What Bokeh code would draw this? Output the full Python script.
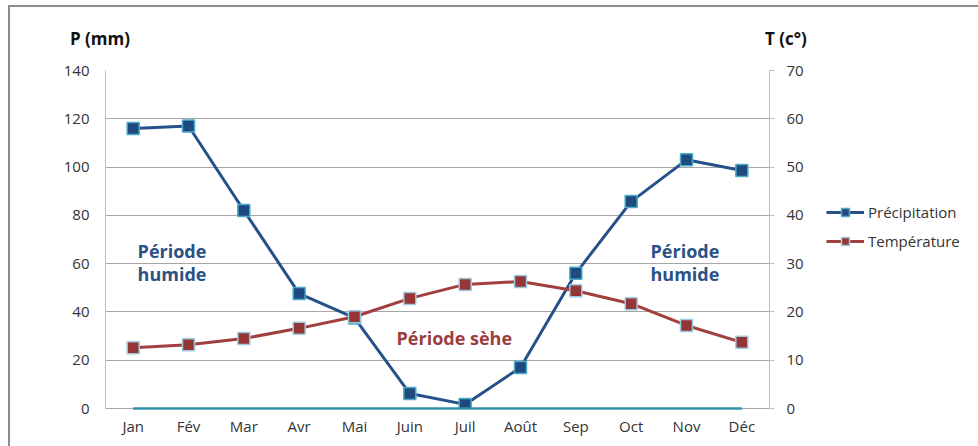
from bokeh.plotting import figure
from bokeh.models import (Range1d, LinearAxis, FixedTicker, Label, Legend, LegendItem, FactorRange, Div)
from bokeh.layouts import column, row
from bokeh.embed import file_html
from bokeh.resources import INLINE

months = ["Jan", "Fév", "Mar", "Avr", "Mai", "Juin", "Juil", "Août", "Sep", "Oct", "Nov", "Déc"]
precip = [116, 117, 82, 47.6, 37.5, 6.2, 1.7, 17, 56, 85.7, 103, 98.6]
temp = [12.6, 13.2, 14.5, 16.6, 19.0, 22.8, 25.7, 26.3, 24.4, 21.7, 17.2, 13.7]
zero = [0] * 12
p_ticks = [0, 20, 40, 60, 80, 100, 120, 140]
t_ticks = [0, 10, 20, 30, 40, 50, 60, 70]
series_names = ["Précipitation", "Température"]
p_title = "P (mm)"
t_title = "T (c°)"

FONT = "Open Sans"
BLUE = "#26508a"
RED = "#a03f3d"
P_MARK = dict(marker="square", size=12, fill_color="#1f4a80", line_color="#4bacc6", line_width=1.5)
T_MARK = dict(marker="square", size=12, fill_color="#963634", line_color="#9ccbe0", line_width=1.5)

p = figure(x_range=FactorRange(*months, range_padding=0), y_range=Range1d(0, 140),
           width=805, height=396, output_backend="svg", toolbar_location=None,
           min_border_left=95, min_border_right=46, min_border_top=20, min_border_bottom=38)
p.extra_y_ranges = {"temp": Range1d(0, 70)}
p.outline_line_color = None
p.background_fill_color = "white"
p.border_fill_color = "white"

p.xgrid.grid_line_color = None
p.ygrid.grid_line_color = "#a6a6a6"
p.ygrid.grid_line_width = 1
p.yaxis.ticker = FixedTicker(ticks=p_ticks)
p.yaxis.major_tick_out = 0
p.yaxis.major_tick_in = 0
p.yaxis.minor_tick_line_color = None
p.yaxis.axis_line_color = "#bfbfbf"
p.yaxis.major_label_standoff = 16

for ax in [p.xaxis[0], p.yaxis[0]]:
    ax.major_label_text_font = FONT
    ax.major_label_text_font_size = "15px"
    ax.major_label_text_color = "#333333"

p.xaxis.major_tick_out = 0
p.xaxis.major_tick_in = 0
p.xaxis.axis_line_color = "#a6a6a6"
p.xaxis.major_label_standoff = 7

rax = LinearAxis(y_range_name="temp", ticker=FixedTicker(ticks=t_ticks))
rax.major_tick_out = 5
rax.major_tick_in = 0
rax.major_tick_line_color = "#bfbfbf"
rax.minor_tick_line_color = None
rax.axis_line_color = "#bfbfbf"
rax.major_label_standoff = 12
rax.major_label_text_font = FONT
rax.major_label_text_font_size = "15px"
rax.major_label_text_color = "#333333"
p.add_layout(rax, "right")

p.line(months, zero, line_color="#3590ac", line_width=2.5, level="overlay")
p.line(months, precip, line_color=BLUE, line_width=3)
p.scatter(months, precip, **P_MARK)
p.line(months, temp, line_color=RED, line_width=3, y_range_name="temp")
p.scatter(months, temp, y_range_name="temp", **T_MARK)

def lab(x, y, text, color, size="18px", rng="default"):
    p.add_layout(Label(x=x, y=y, text=text, text_color=color, text_font=FONT,
                       text_font_size=size, text_font_style="bold",
                       text_baseline="middle", text_align="left", y_range_name=rng))

lab(0.58, 65.4, "Période", "#2b5185")
lab(0.58, 55.9, "humide", "#2b5185")
lab(9.85, 65.4, "Période", "#2b5185")
lab(9.85, 55.9, "humide", "#2b5185")
lab(5.26, 29.4, "Période sèhe", "#9c3d3d")

# legend panel: same series, drawn off-range, legend only
q = figure(x_range=FactorRange(*months), y_range=Range1d(1000, 1001),
           width=163, height=396, output_backend="svg", toolbar_location=None,
           min_border=0, outline_line_color=None)
q.axis.visible = False
q.grid.visible = False
ql1 = q.line(months, precip, line_color=BLUE, line_width=3)
qs1 = q.scatter(months, precip, **P_MARK)
ql2 = q.line(months, temp, line_color=RED, line_width=3)
qs2 = q.scatter(months, temp, **T_MARK)
legend = Legend(items=[LegendItem(label=series_names[0], renderers=[ql1, qs1]),
                       LegendItem(label=series_names[1], renderers=[ql2, qs2])],
                location=(11, 157), orientation="vertical")
legend.border_line_color = None
legend.background_fill_alpha = 0
legend.padding = 0
legend.margin = 0
legend.spacing = 9
legend.glyph_width = 38
legend.glyph_height = 20
legend.label_standoff = 4
legend.label_text_font = FONT
legend.label_text_font_size = "15px"
legend.label_text_color = "#333333"
q.add_layout(legend, "center")

head = Div(text=(
    f'<div style="position:relative;width:968px;height:43px;font-family:\'Open Sans\';'
    f'font-weight:bold;font-size:17px;color:#111111;">'
    f'<span style="position:absolute;left:60px;top:22px;line-height:20px;">{p_title}</span>'
    f'<span style="position:absolute;left:755px;top:22px;line-height:20px;">{t_title}</span>'
    f'</div>'), width=968, height=43, margin=0)

layout = column(head, row(p, q, spacing=0), spacing=0)
layout.styles = {"border-left": "2px solid #8c8c8c", "border-top": "2px solid #8c8c8c",
                 "margin-left": "8px", "margin-top": "5px"}

open("out.html", "w").write(file_html(layout, INLINE))
